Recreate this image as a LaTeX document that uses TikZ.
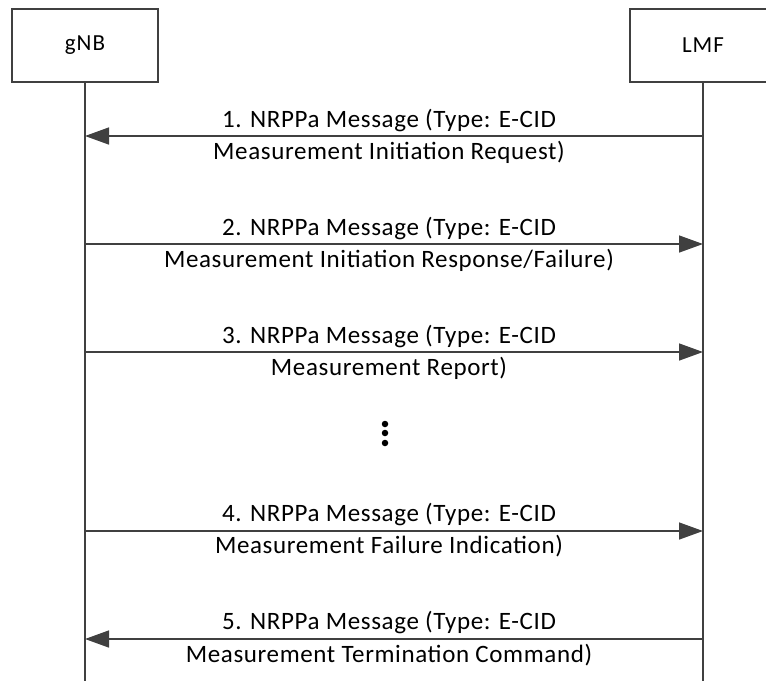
\documentclass[tikz,border=0pt]{standalone}
\usepackage{fontspec}
\setmainfont{Carlito}
\newfontfamily\lblfont[LetterSpace=2.5]{Carlito}
\newfontfamily\entfont[LetterSpace=4]{Carlito}
\usetikzlibrary{arrows.meta}
\begin{document}
\begin{tikzpicture}[x=1pt,y=-1pt,
  ent/.style={draw=black!75,line width=1.3pt,minimum width=146pt,minimum height=73pt,font=\entfont\fontsize{23}{26}\selectfont,inner sep=0pt},
  life/.style={draw=black!75,line width=1.5pt},
  msg/.style={draw=black!75,line width=1.5pt,-{Triangle[length=24pt,width=17pt]}},
  lbl/.style={font=\lblfont\fontsize{25}{28}\selectfont,inner sep=0pt},
  dot/.style={circle,fill=black,inner sep=0pt,minimum size=6.5pt}]
\useasboundingbox (0,0) rectangle (766,681);
\begin{scope}
\clip (0,0) rectangle (766,681);
\node[ent] (gnb) at (85,45.5) {gNB};
\node[ent] (lmf) at (703,45.5) {LMF};
\coordinate (gend) at (85,681);
\coordinate (lend) at (703,681);
\draw[life] (gnb.south) -- (gend);
\draw[life] (lmf.south) -- (lend);
\end{scope}
\foreach \n/\y in {1/136,2/244,3/352,4/531,5/639}{
  \coordinate (g\n) at (85,\y);
  \coordinate (l\n) at (703,\y);
}
\draw[msg] (l1) -- (g1);
\draw[msg] (g2) -- (l2);
\draw[msg] (g3) -- (l3);
\draw[msg] (g4) -- (l4);
\draw[msg] (l5) -- (g5);
\node[lbl] (t1a) at (389,121) {1. NRPPa Message (Type: E-CID};
\node[lbl] (t1b) at (389,152) {Measurement Initiation Request)};
\node[lbl] (t2a) at (389,229) {2. NRPPa Message (Type: E-CID};
\node[lbl] (t2b) at (389,260) {Measurement Initiation Response/Failure)};
\node[lbl] (t3a) at (389,337) {3. NRPPa Message (Type: E-CID};
\node[lbl] (t3b) at (389,368) {Measurement Report)};
\node[lbl] (t4a) at (389,515) {4. NRPPa Message (Type: E-CID};
\node[lbl] (t4b) at (389,546) {Measurement Failure Indication)};
\node[lbl] (t5a) at (389,623) {5. NRPPa Message (Type: E-CID};
\node[lbl] (t5b) at (389,655) {Measurement Termination Command)};
\node[dot] (d1) at (385,424) {};
\node[dot] (d2) at (385,433) {};
\node[dot] (d3) at (385,443) {};
\end{tikzpicture}
\end{document}
